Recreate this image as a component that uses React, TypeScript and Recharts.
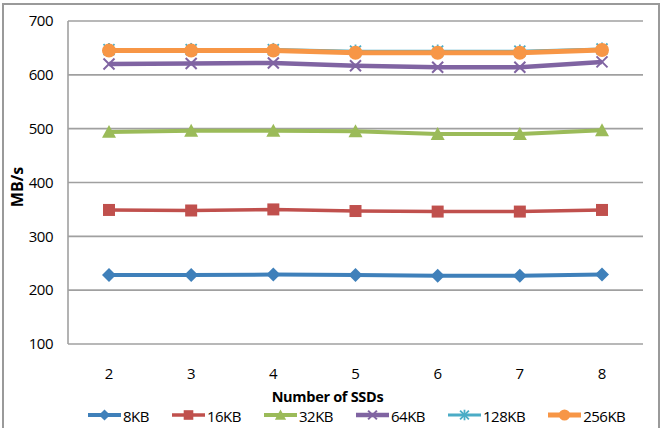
import React from 'react';
import { LineChart, Line, XAxis, YAxis, CartesianGrid } from 'recharts';

// Number of SSDs on the x axis
const ssdCounts = ['2', '3', '4', '5', '6', '7', '8'];

// Throughput (MB/s) per request size
const kb8 = [228, 228, 229, 228, 227, 227, 229];
const kb16 = [349, 348, 350, 347, 346, 346, 349];
const kb32 = [494, 496, 496, 495, 490, 490, 497];
const kb64 = [620, 621, 622, 617, 614, 614, 624];
const kb128 = [647, 647, 647, 644, 644, 644, 648];
const kb256 = [645, 645, 645, 641, 641, 641, 646];

const yTicks = [100, 200, 300, 400, 500, 600, 700];
const seriesNames = ['8KB', '16KB', '32KB', '64KB', '128KB', '256KB'];

const FONT = '"Open Sans", sans-serif';

type Shape = 'diamond' | 'square' | 'triangle' | 'cross' | 'star' | 'circle';

const seriesStyle: { color: string; shape: Shape; width: number; size: number }[] = [
  { color: '#3F80BA', shape: 'diamond', width: 4, size: 7 },
  { color: '#C0504D', shape: 'square', width: 3.5, size: 6 },
  { color: '#9BBB59', shape: 'triangle', width: 4, size: 7 },
  { color: '#8064A2', shape: 'cross', width: 4.5, size: 5.5 },
  { color: '#4BACC6', shape: 'star', width: 3, size: 5.5 },
  { color: '#F79646', shape: 'circle', width: 5, size: 7 },
];

const seriesValues = [kb8, kb16, kb32, kb64, kb128, kb256];

const data = ssdCounts.map((n, i) => {
  const row: Record<string, string | number> = { n };
  seriesNames.forEach((name, s) => {
    row[name] = seriesValues[s][i];
  });
  return row;
});

function Marker({ shape, cx, cy, color, s }: { shape: Shape; cx: number; cy: number; color: string; s: number }) {
  switch (shape) {
    case 'diamond':
      return <path d={`M${cx},${cy - s} L${cx + s},${cy} L${cx},${cy + s} L${cx - s},${cy} Z`} fill={color} />;
    case 'square':
      return <rect x={cx - s} y={cy - s} width={2 * s} height={2 * s} fill={color} />;
    case 'triangle':
      return <path d={`M${cx},${cy - s} L${cx + s},${cy + s * 0.85} L${cx - s},${cy + s * 0.85} Z`} fill={color} />;
    case 'cross':
      return (
        <g stroke={color} strokeWidth={2}>
          <line x1={cx - s} y1={cy - s} x2={cx + s} y2={cy + s} />
          <line x1={cx - s} y1={cy + s} x2={cx + s} y2={cy - s} />
        </g>
      );
    case 'star':
      return (
        <g stroke={color} strokeWidth={1.8}>
          <line x1={cx - s} y1={cy - s} x2={cx + s} y2={cy + s} />
          <line x1={cx - s} y1={cy + s} x2={cx + s} y2={cy - s} />
          <line x1={cx} y1={cy - s * 1.2} x2={cx} y2={cy + s * 1.2} />
        </g>
      );
    default:
      return <circle cx={cx} cy={cy} r={s} fill={color} />;
  }
}

function LegendRow() {
  return (
    <div
      style={{
        position: 'absolute',
        left: 88,
        top: 404,
        display: 'flex',
        gap: 23,
        alignItems: 'center',
        fontFamily: FONT,
        fontSize: 15,
        letterSpacing: -0.5,
        lineHeight: '18px',
        color: '#000',
      }}
    >
      {seriesNames.map((name, i) => {
        const st = seriesStyle[i];
        return (
          <div key={name} style={{ display: 'flex', alignItems: 'center' }}>
            <svg width={33} height={16} style={{ display: 'block' }}>
              <line x1={0} y1={8} x2={33} y2={8} stroke={st.color} strokeWidth={st.width} />
              <Marker shape={st.shape} cx={16.5} cy={8} color={st.color} s={st.size * 0.8} />
            </svg>
            <span style={{ marginLeft: 2, marginTop: 3 }}>{name}</span>
          </div>
        );
      })}
    </div>
  );
}

export default function App() {
  return (
    <div
      style={{
        position: 'absolute',
        left: 0,
        top: 0,
        width: 663,
        height: 428,
        overflow: 'hidden',
        background: '#fff',
      }}
    >
      <div
        style={{
          position: 'absolute',
          left: 2,
          top: 3,
          width: 654,
          height: 440,
          border: '2px solid #9a9a9a',
        }}
      />
      <LineChart
        width={663}
        height={428}
        data={data}
        margin={{ top: 21, right: 20, bottom: 0, left: 0 }}
        style={{ position: 'absolute', left: 0, top: 0 }}
      >
        <CartesianGrid vertical={false} stroke="#a0a0a0" strokeWidth={1.6} />
        <XAxis
          dataKey="n"
          height={84}
          padding={{ left: 41, right: 41 }}
          axisLine={false}
          tickLine={false}
          tickSize={0}
          tickMargin={24}
          tick={{ fill: '#000', fontSize: 15, fontFamily: FONT }}
          label={(props: any) => {
            const vb = props.viewBox;
            return (
              <text
                x={vb.x + vb.width / 2 - 28}
                y={402}
                textAnchor="middle"
                fontFamily={FONT}
                fontWeight="bold"
                fontSize={14.5}
                letterSpacing={-0.3}
                fill="#000"
              >
                Number of SSDs
              </text>
            );
          }}
        />
        <YAxis
          width={68}
          domain={[100, 700]}
          ticks={yTicks}
          interval={0}
          axisLine={{ stroke: '#a0a0a0', strokeWidth: 1.6 }}
          tickLine={false}
          tickSize={0}
          tickMargin={15}
          tick={{ fill: '#000', fontSize: 15, fontFamily: FONT, letterSpacing: -0.5 }}
          label={() => (
            <text
              x={23}
              y={187}
              transform="rotate(-90, 23, 187)"
              textAnchor="middle"
              fontFamily={FONT}
              fontWeight="bold"
              fontSize={16}
              fill="#000"
            >
              MB/s
            </text>
          )}
        />
        {seriesNames.map((name, i) => {
          const st = seriesStyle[i];
          return (
            <Line
              key={name}
              dataKey={name}
              name={name}
              stroke={st.color}
              strokeWidth={st.width}
              isAnimationActive={false}
              activeDot={false}
              dot={(p: any) => (
                <Marker
                  key={`${name}-${p.index}`}
                  shape={st.shape}
                  cx={p.cx}
                  cy={p.cy}
                  color={st.color}
                  s={st.size}
                />
              )}
            />
          );
        })}
      </LineChart>
      <LegendRow />
    </div>
  );
}
